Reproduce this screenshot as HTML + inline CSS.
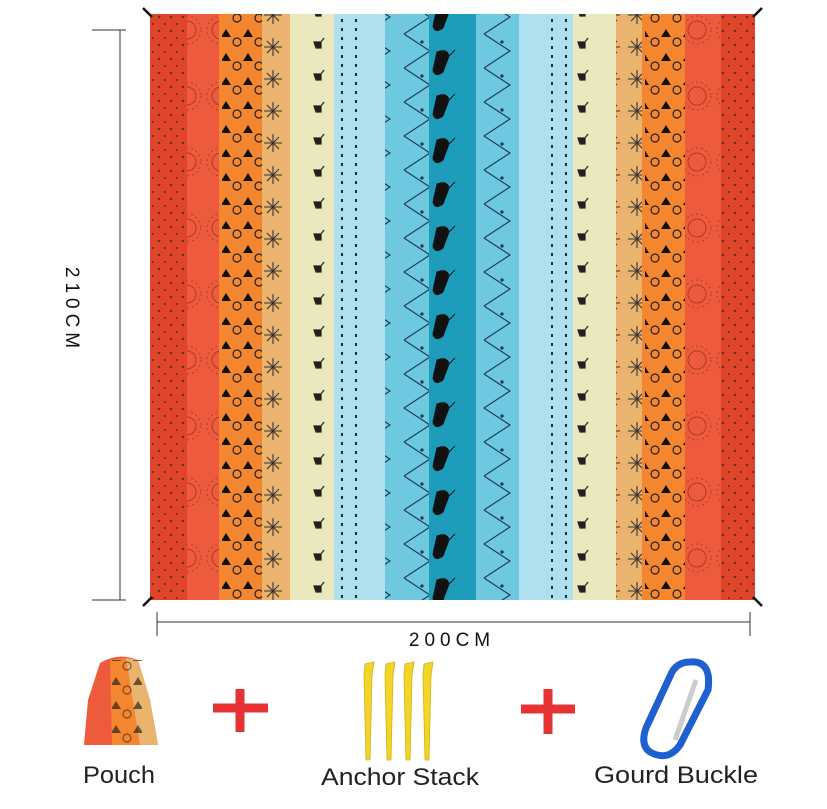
<!DOCTYPE html>
<html><head><meta charset="utf-8"><style>
body{margin:0;background:#fff;width:827px;height:804px;overflow:hidden;font-family:"Liberation Sans",sans-serif}
</style></head><body>
<svg width="827" height="804" xmlns="http://www.w3.org/2000/svg">
<defs>
<pattern id="tri" width="22" height="24" patternUnits="userSpaceOnUse"><polygon points="6,5 11,13 1,13" fill="#111"/><circle cx="17" cy="18" r="4" fill="none" stroke="#222" stroke-width="1.2"/></pattern>
<pattern id="dots" width="12" height="14" patternUnits="userSpaceOnUse"><circle cx="3" cy="3" r="1.2" fill="#222"/><circle cx="9" cy="10" r="1" fill="#222"/></pattern>
<pattern id="vdots" width="14" height="9" patternUnits="userSpaceOnUse"><rect x="5" y="1" width="2" height="3" fill="#1a2a3a"/></pattern>
<pattern id="zig" width="40" height="34" patternUnits="userSpaceOnUse"><polyline points="4,0 30,17 4,34" fill="none" stroke="#1a3a4a" stroke-width="1.1"/><circle cx="22" cy="8" r="1.6" fill="#1a3a4a"/></pattern>
<pattern id="bird" width="47" height="44" patternUnits="userSpaceOnUse"><path d="M14,8 Q24,4 26,12 L20,28 Q12,34 10,26 Z M26,12 L32,6" fill="#111" stroke="#111" stroke-width="1"/></pattern>
<pattern id="star" width="26" height="32" patternUnits="userSpaceOnUse"><path d="M13,6 L13,24 M4,15 L22,15 M7,9 L19,21 M19,9 L7,21" stroke="#333" stroke-width="1.1"/></pattern>
<pattern id="deer" width="22" height="32" patternUnits="userSpaceOnUse"><path d="M6,10 L13,10 L13,16 L8,16 Z M13,10 L16,6" fill="#222" stroke="#222" stroke-width="1.2"/></pattern>
<pattern id="sun" width="34" height="66" patternUnits="userSpaceOnUse"><circle cx="17" cy="30" r="9" fill="none" stroke="#9a3020" stroke-width="1"/><circle cx="17" cy="30" r="14" fill="none" stroke="#9a3020" stroke-width=".9" stroke-dasharray="2 3"/></pattern>
</defs>
<rect x="150" y="14" width="37" height="586" fill="#e0452a"/>
<rect x="150" y="14" width="37" height="586" fill="url(#dots)" opacity=".7"/>
<rect x="187" y="14" width="32" height="586" fill="#ee5b3c"/>
<rect x="187" y="14" width="32" height="586" fill="url(#sun)" opacity=".8"/>
<rect x="219" y="14" width="43" height="586" fill="#f3862e"/>
<rect x="222" y="14" width="40" height="586" fill="url(#tri)"/>
<rect x="262" y="14" width="28" height="586" fill="#ebb46e"/>
<rect x="262" y="14" width="28" height="586" fill="url(#star)"/>
<rect x="290" y="14" width="44" height="586" fill="#ece8be"/>
<rect x="308" y="14" width="24" height="586" fill="url(#deer)"/>
<rect x="334" y="14" width="51" height="586" fill="#aee0ee"/>
<rect x="334" y="14" width="30" height="586" fill="url(#vdots)"/>
<rect x="385" y="14" width="44" height="586" fill="#6ec8e0"/>
<rect x="385" y="14" width="44" height="586" fill="url(#zig)"/>
<rect x="429" y="14" width="47" height="586" fill="#1e9cbc"/>
<rect x="429" y="14" width="47" height="586" fill="url(#bird)"/>
<rect x="476" y="14" width="43" height="586" fill="#6ec8e0"/>
<rect x="476" y="14" width="43" height="586" fill="url(#zig)"/>
<rect x="519" y="14" width="54" height="586" fill="#aee0ee"/>
<rect x="540" y="14" width="30" height="586" fill="url(#vdots)"/>
<rect x="573" y="14" width="43" height="586" fill="#ece8be"/>
<rect x="573" y="14" width="24" height="586" fill="url(#deer)"/>
<rect x="616" y="14" width="26" height="586" fill="#ebb46e"/>
<rect x="616" y="14" width="26" height="586" fill="url(#star)"/>
<rect x="642" y="14" width="43" height="586" fill="#f3862e"/>
<rect x="645" y="14" width="40" height="586" fill="url(#tri)"/>
<rect x="685" y="14" width="36" height="586" fill="#ee5b3c"/>
<rect x="685" y="14" width="36" height="586" fill="url(#sun)" opacity=".8"/>
<rect x="721" y="14" width="34" height="586" fill="#e0452a"/>
<rect x="721" y="14" width="34" height="586" fill="url(#dots)" opacity=".7"/>
<path d="M143,8 L152,17 M762,8 L753,17 M143,606 L152,597 M762,606 L753,597" stroke="#111" stroke-width="2.5"/>
<path d="M120,30 L120,600 M92,30 L126,30 M92,600 L126,600" stroke="#333" stroke-width="1"/>
<text x="0" y="0" transform="translate(66,310) rotate(90)" text-anchor="middle" font-size="19" letter-spacing="5" fill="#111">210CM</text>
<path d="M157,622 L750,622 M157,612 L157,636 M750,612 L750,636" stroke="#333" stroke-width="1"/>
<text x="452" y="646" text-anchor="middle" font-size="19" letter-spacing="5" fill="#111">200CM</text>
<path d="M100,663 Q118,652 138,660 L150,700 L158,745 L84,745 L88,700 Z" fill="#ee5b3c"/>
<path d="M110,660 L126,658 L140,745 L112,745 Z" fill="#f3862e"/>
<path d="M126,658 L138,660 L150,700 L158,745 L140,745 Z" fill="#ebb46e"/>
<rect x="112" y="660" width="30" height="85" fill="url(#tri)" opacity=".6"/>
<path d="M213,708 L268,708 M240,689 L240,732" stroke="#e63434" stroke-width="9"/>
<path d="M521,709 L575,709 M548,689 L548,734" stroke="#e63434" stroke-width="9"/>
<g fill="#f2d52a" stroke="#d4b010" stroke-width=".8">
<path d="M365,664 L374,662 L372,676 L370,760 L366,760 L364,676 Z"/>
<path d="M386,664 L395,662 L393,676 L391,760 L387,760 L385,676 Z"/>
<path d="M405,664 L414,662 L412,676 L410,760 L406,760 L404,676 Z"/>
<path d="M424,664 L433,662 L431,676 L429,760 L425,760 L423,676 Z"/>
</g>
<path d="M690,662 Q712,660 708,690 L680,745 Q668,762 650,752 Q640,745 646,728 L672,672 Q678,662 690,662 Z" fill="none" stroke="#1f5fd0" stroke-width="7"/>
<path d="M696,680 L675,740" stroke="#ccc" stroke-width="5"/>
<text x="119" y="783" text-anchor="middle" font-size="24" fill="#222" textLength="72" lengthAdjust="spacingAndGlyphs">Pouch</text>
<text x="400" y="785" text-anchor="middle" font-size="24" fill="#222" textLength="158" lengthAdjust="spacingAndGlyphs">Anchor Stack</text>
<text x="676" y="783" text-anchor="middle" font-size="24" fill="#222" textLength="164" lengthAdjust="spacingAndGlyphs">Gourd Buckle</text>
</svg>
</body></html>
